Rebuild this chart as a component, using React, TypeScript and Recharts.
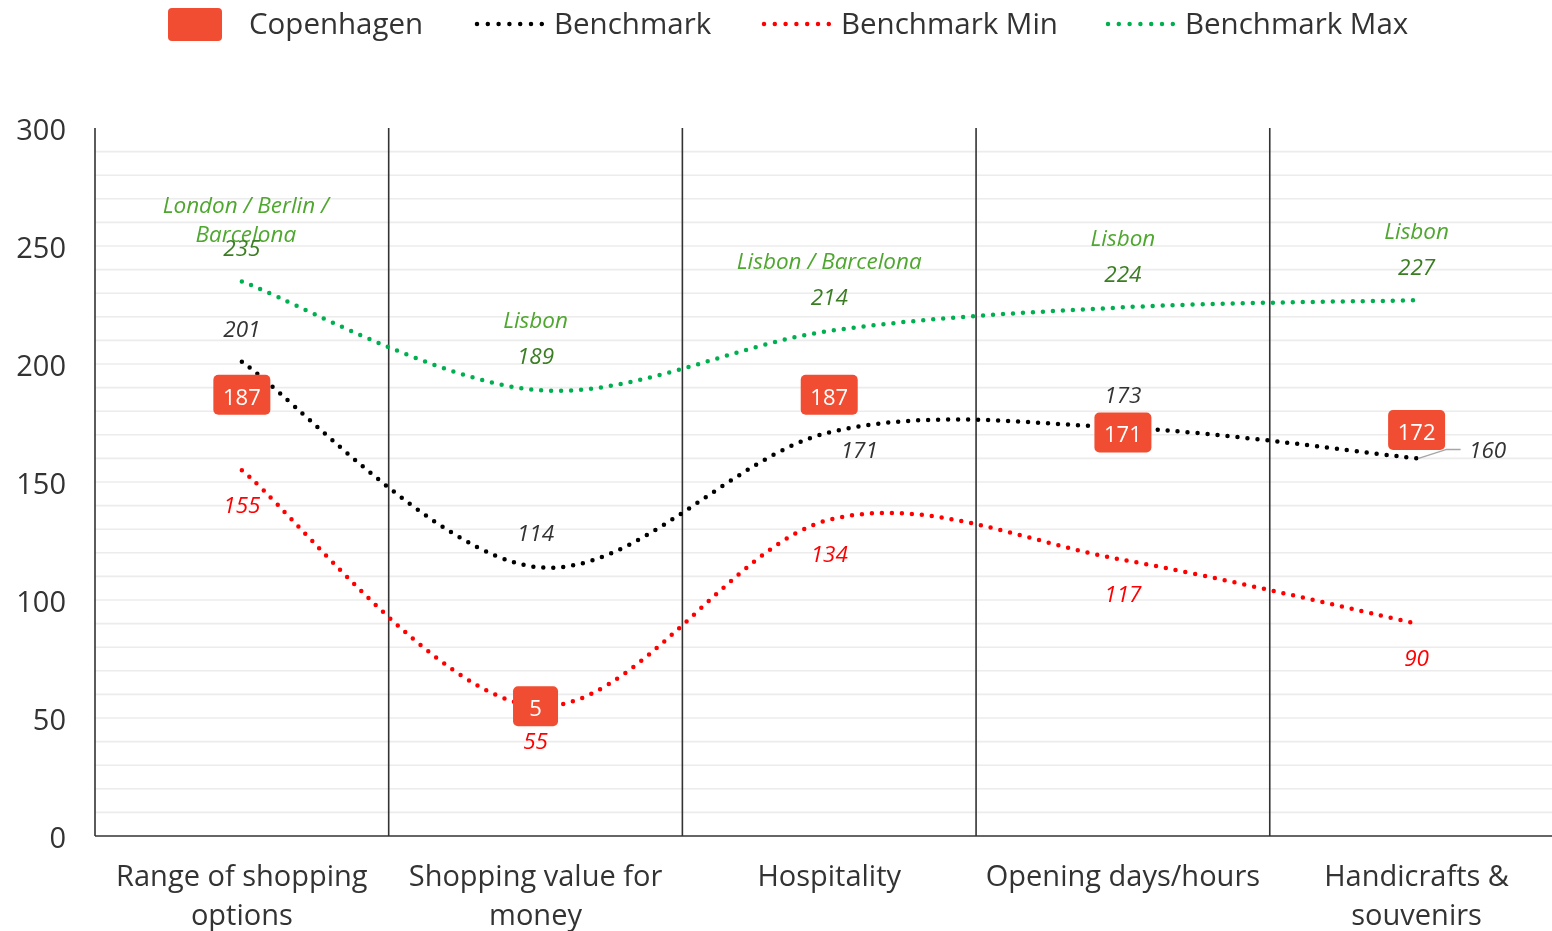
import React from "react";
import { LineChart, Line, XAxis, YAxis, ReferenceLine, LabelList } from "recharts";

// categories and series
const categories = [
  ["Range of shopping", "options"],
  ["Shopping value for", "money"],
  ["Hospitality"],
  ["Opening days/hours"],
  ["Handicrafts &", "souvenirs"],
];
const copenhagen = [187, 55, 187, 171, 172];
const copenhagenLabels = ["187", "5", "187", "171", "172"];
const benchmark = [201, 114, 171, 173, 160];
const benchmarkMin = [155, 55, 134, 117, 90];
const benchmarkMax = [235, 189, 214, 224, 227];
const maxCities = [["London / Berlin /", "Barcelona"], ["Lisbon"], ["Lisbon / Barcelona"], ["Lisbon"], ["Lisbon"]];
const yTicks = [0, 50, 100, 150, 200, 250, 300];

const FONT = "'Open Sans', sans-serif";
const RED_BOX = "#F14D32";
const GREEN = "#00B050";
const MIN_RED = "#FF0000";

const data = categories.map((c, i) => ({
  idx: i,
  copenhagen: copenhagen[i],
  benchmark: benchmark[i],
  min: benchmarkMin[i],
  max: benchmarkMax[i],
}));

const gridValues: number[] = [];
for (let v = 10; v < 300; v += 10) gridValues.push(v);

// Excel-like smoothed line (Catmull-Rom as cubic beziers)
function excelCurve(context: any) {
  let pts: number[][] = [];
  return {
    areaStart() {},
    areaEnd() {},
    lineStart() {
      pts = [];
    },
    point(x: number, y: number) {
      pts.push([+x, +y]);
    },
    lineEnd() {
      const n = pts.length;
      if (!n) return;
      context.moveTo(pts[0][0], pts[0][1]);
      for (let i = 0; i < n - 1; i++) {
        const p0 = pts[Math.max(i - 1, 0)];
        const p1 = pts[i];
        const p2 = pts[i + 1];
        const p3 = pts[Math.min(i + 2, n - 1)];
        context.bezierCurveTo(
          p1[0] + (p2[0] - p0[0]) / 6,
          p1[1] + (p2[1] - p0[1]) / 6,
          p2[0] - (p3[0] - p1[0]) / 6,
          p2[1] - (p3[1] - p1[1]) / 6,
          p2[0],
          p2[1]
        );
      }
    },
  };
}

const labelFont = { fontFamily: FONT, fontSize: 22.5, fontStyle: "italic" as const };

// label offsets relative to the point
const benchOffsets = [
  { dx: 0, dy: -33 },
  { dx: 0, dy: -34 },
  { dx: 30, dy: 17 },
  { dx: 0, dy: -33 },
  { dx: 71, dy: -9 },
];

function BenchLabel(props: any) {
  const { x, y, value, index } = props;
  const o = benchOffsets[index];
  return (
    <g>
      {index === 4 && (
        <polyline
          points={`${x + 2},${y} ${x + 30},${y - 9} ${x + 44},${y - 9}`}
          fill="none"
          stroke="#a6a6a6"
          strokeWidth={1.5}
        />
      )}
      <text x={x + o.dx} y={y + o.dy} textAnchor="middle" dominantBaseline="central" fill="#333" {...labelFont}>
        {value}
      </text>
    </g>
  );
}

function MinLabel(props: any) {
  const { x, y, value } = props;
  return (
    <text x={x} y={y + 34} textAnchor="middle" dominantBaseline="central" fill={MIN_RED} {...labelFont}>
      {value}
    </text>
  );
}

function MaxLabel(props: any) {
  const { x, y, value, index } = props;
  const lines = maxCities[index];
  const bottom = index === 0 ? -48 : -70;
  return (
    <g>
      {lines.map((l, k) => (
        <text
          key={k}
          x={x + (index === 0 ? 4 : 0)}
          y={y + bottom - (lines.length - 1 - k) * 29}
          textAnchor="middle"
          dominantBaseline="central"
          fill="#4EA72E"
          {...labelFont}
        >
          {l}
        </text>
      ))}
      <text x={x} y={y - 34} textAnchor="middle" dominantBaseline="central" fill="#3B7D23" {...labelFont}>
        {value}
      </text>
    </g>
  );
}

function CphLabel(props: any) {
  const { x, y, index } = props;
  const t = copenhagenLabels[index];
  const w = 39 + 6 * t.length;
  return (
    <g>
      <rect x={x - w / 2} y={y - 20} width={w} height={40} rx={5} fill={RED_BOX} />
      <text
        x={x}
        y={y + 1}
        textAnchor="middle"
        dominantBaseline="central"
        fill="#fff"
        fontFamily={FONT}
        fontSize={22}
      >
        {t}
      </text>
    </g>
  );
}

function XTick(props: any) {
  const { x, y, payload } = props;
  const lines = categories[payload.value] || [];
  return (
    <g>
      {lines.map((l, k) => (
        <text key={k} x={x} y={y + 30 + k * 39} textAnchor="middle" dominantBaseline="central" fill="#333" fontFamily={FONT} fontSize={29}>
          {l}
        </text>
      ))}
    </g>
  );
}

function YTick(props: any) {
  const { x, y, payload } = props;
  return (
    <text x={x + 7} y={y} textAnchor="end" dominantBaseline="central" fill="#333" fontFamily={FONT} fontSize={29}>
      {payload.value}
    </text>
  );
}

function DotSwatch({ color }: { color: string }) {
  return (
    <svg width={70} height={10} style={{ display: "block" }}>
      <line x1={3} y1={5} x2={68} y2={5} stroke={color} strokeWidth={4.5} strokeLinecap="round" strokeDasharray="0 10.8" />
    </svg>
  );
}

function TopLegend() {
  const item = (swatch: React.ReactNode, label: string, left: number, textLeft: number) => (
    <div style={{ position: "absolute", left, top: 0, height: 48, display: "flex", alignItems: "center" }}>
      {swatch}
      <span
        style={{
          position: "absolute",
          left: textLeft - left,
          top: -1,
          lineHeight: "48px",
          fontFamily: FONT,
          fontSize: 29.5,
          color: "#333",
          whiteSpace: "nowrap",
        }}
      >
        {label}
      </span>
    </div>
  );
  return (
    <div style={{ position: "absolute", left: 0, top: 0, width: 1552, height: 50 }}>
      {item(<div style={{ width: 54, height: 33, borderRadius: 4, background: RED_BOX }} />, "Copenhagen", 168, 249)}
      {item(<DotSwatch color="#000" />, "Benchmark", 474, 554)}
      {item(<DotSwatch color={MIN_RED} />, "Benchmark Min", 761, 841)}
      {item(<DotSwatch color={GREEN} />, "Benchmark Max", 1105, 1185)}
    </div>
  );
}

const dotted = { strokeWidth: 4.5, strokeDasharray: "0 10", strokeLinecap: "round" as const };

export default function App() {
  return (
    <div style={{ position: "fixed", left: 0, top: 0, width: 1552, height: 931, background: "#fff" }}>
      <TopLegend />
      <LineChart width={1552} height={931} data={data} margin={{ top: 128, right: 0, bottom: 0, left: 0 }}>
        {gridValues.map((v) => (
          <ReferenceLine key={v} y={v} stroke="#ececec" strokeWidth={1.6} />
        ))}
        {[0.5, 1.5, 2.5, 3.5].map((v) => (
          <ReferenceLine key={v} x={v} stroke="#333" strokeWidth={1.6} />
        ))}
        <XAxis
          type="number"
          dataKey="idx"
          domain={[-0.5, 4.461]}
          ticks={[0, 1, 2, 3, 4]}
          allowDataOverflow
          height={95}
          tickLine={false}
          axisLine={{ stroke: "#333", strokeWidth: 1.6 }}
          tick={<XTick />}
          interval={0}
        />
        <YAxis
          domain={[0, 300]}
          ticks={yTicks}
          width={95}
          tickLine={false}
          axisLine={{ stroke: "#333", strokeWidth: 1.6 }}
          tick={<YTick />}
          tickMargin={30}
          interval={0}
        />
        <Line dataKey="max" type={excelCurve as any} stroke={GREEN} {...dotted} dot={false} isAnimationActive={false}>
          <LabelList dataKey="max" content={<MaxLabel />} />
        </Line>
        <Line dataKey="min" type={excelCurve as any} stroke={MIN_RED} {...dotted} dot={false} isAnimationActive={false}>
          <LabelList dataKey="min" content={<MinLabel />} />
        </Line>
        <Line dataKey="benchmark" type={excelCurve as any} stroke="#000" {...dotted} dot={false} isAnimationActive={false}>
          <LabelList dataKey="benchmark" content={<BenchLabel />} />
        </Line>
        <Line dataKey="copenhagen" stroke="none" dot={false} activeDot={false} isAnimationActive={false}>
          <LabelList dataKey="copenhagen" content={<CphLabel />} />
        </Line>
      </LineChart>
    </div>
  );
}
